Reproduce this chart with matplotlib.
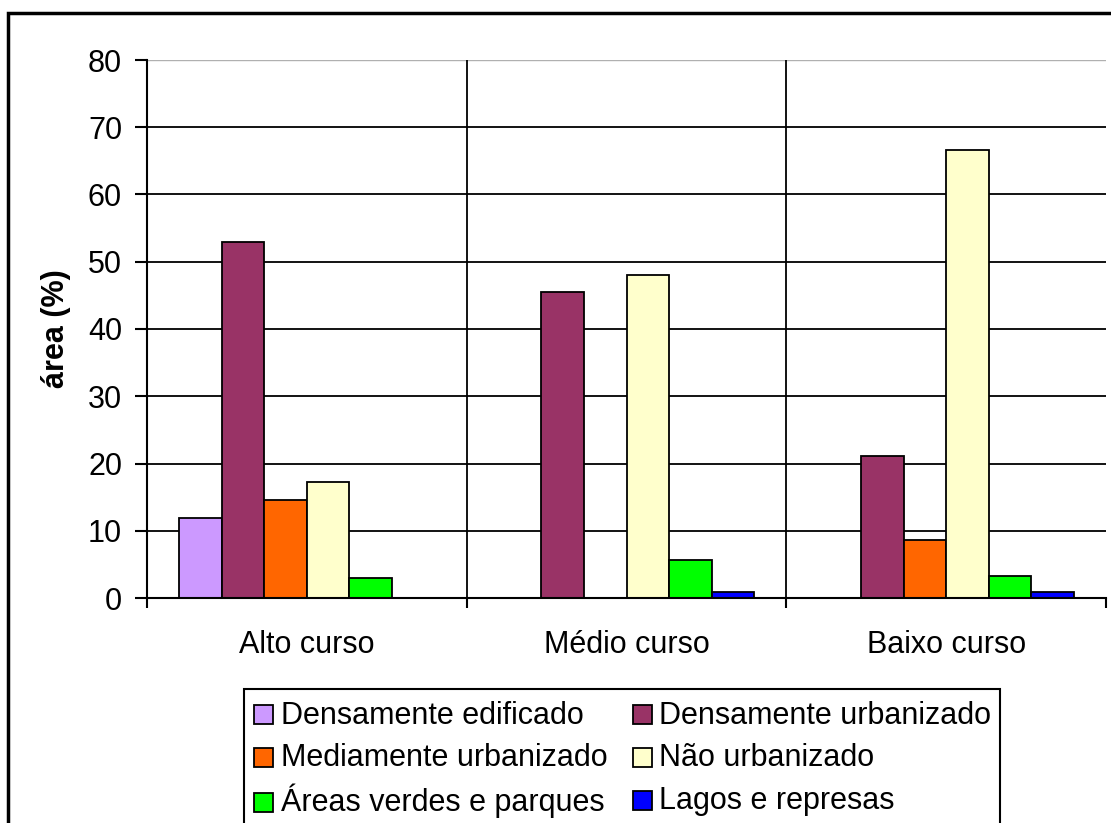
import matplotlib.pyplot as plt
import numpy as np
from matplotlib.patches import Rectangle
from matplotlib.legend_handler import HandlerPatch

plt.rcParams['font.family'] = ['Liberation Sans', 'DejaVu Sans']

# Uso do solo por trecho da bacia (% da área)
trechos = ["Alto curso", "Médio curso", "Baixo curso"]
classes = ["Densamente edificado", "Densamente urbanizado", "Mediamente urbanizado",
           "Não urbanizado", "Áreas verdes e parques", "Lagos e represas"]
dens_edificado = [11.9, 0, 0]
dens_urbanizado = [52.9, 45.5, 21.1]
med_urbanizado = [14.6, 0, 8.6]
nao_urbanizado = [17.3, 48.0, 66.6]
areas_verdes = [3.0, 5.6, 3.3]
lagos = [0, 0.9, 0.9]
cores = ["#CC99FF", "#993366", "#FF6600", "#FFFFCC", "#00FF00", "#0000FF"]

series = [dens_edificado, dens_urbanizado, med_urbanizado, nao_urbanizado, areas_verdes, lagos]

fig = plt.figure(figsize=(11.11, 8.23), dpi=100)
ax = fig.add_axes([147 / 1111, 1 - 598 / 823, (1106 - 147) / 1111, (598 - 60) / 823])

x = np.arange(len(trechos))
w = 1 / 7.5
barras = []
for i, (vals, cor, nome) in enumerate(zip(series, cores, classes)):
    b = ax.bar(x + (i - 2.5) * w, vals, width=w, color=cor, edgecolor="black",
               linewidth=1.3, label=nome, zorder=3)
    barras.append(b)

ax.set_xlim(-0.5, 2.5)
ax.set_ylim(0, 80)

# grade horizontal (a linha do topo é mais clara)
for yv in range(10, 80, 10):
    ax.axhline(yv, color="black", lw=1.3, zorder=1)
ax.axhline(80, color="#b0b0b0", lw=1.0, zorder=1)
for xv in [0.5, 1.5]:
    ax.axvline(xv, color="black", lw=1.3, zorder=1)

for s in ["top", "right"]:
    ax.spines[s].set_visible(False)
for s in ["left", "bottom"]:
    ax.spines[s].set_linewidth(1.5)
    ax.spines[s].set_zorder(4)

ax.set_yticks(range(0, 81, 10))
ax.tick_params(axis="y", labelsize=22, length=9, width=1.5, pad=9, direction="out")
ax.set_xticks(x)
ax.set_xticklabels(trechos)
ax.tick_params(axis="x", which="major", labelsize=22, length=0, pad=23)
ax.set_xticks([-0.5, 0.5, 1.5, 2.5], minor=True)
ax.tick_params(axis="x", which="minor", length=7, width=1.5, direction="out")

ax.set_ylabel("área (%)", fontsize=22, fontweight="bold", labelpad=12)


# quadradinho fixo dentro de uma caixa mais alta, para as linhas ficarem iguais
def quadrado(legend, orig_handle, xdescent, ydescent, width, height, fontsize):
    s = 0.62 * fontsize
    return Rectangle((-xdescent + (width - s) / 2, -ydescent + (height - s) / 2 - 0.05 * fontsize), s, s)


# legenda em duas colunas, preenchida por linha
ordem = [0, 2, 4, 1, 3, 5]
leg = fig.legend([barras[i].patches[0] for i in ordem], [classes[i] for i in ordem],
                 loc="upper left", bbox_to_anchor=(244 / 1111, 1 - 689 / 823),
                 ncol=2, fontsize=22, frameon=True, fancybox=False,
                 handler_map={Rectangle: HandlerPatch(patch_func=quadrado)},
                 handlelength=0.7, handleheight=1.15, handletextpad=0.2,
                 columnspacing=0.8, labelspacing=0.33, borderpad=0.3,
                 borderaxespad=0)
leg.get_frame().set_edgecolor("black")
leg.get_frame().set_linewidth(1.5)
leg.get_frame().set_alpha(1)
for h in leg.legend_handles:
    h.set_linewidth(1.3)

# moldura externa do gráfico
fig.patches.append(Rectangle((8 / 1111, -0.1), 1.2, (823 - 13) / 823 + 0.1,
                             transform=fig.transFigure, fill=False,
                             edgecolor="black", linewidth=2.5))

fig.savefig("out.png", dpi=100)
